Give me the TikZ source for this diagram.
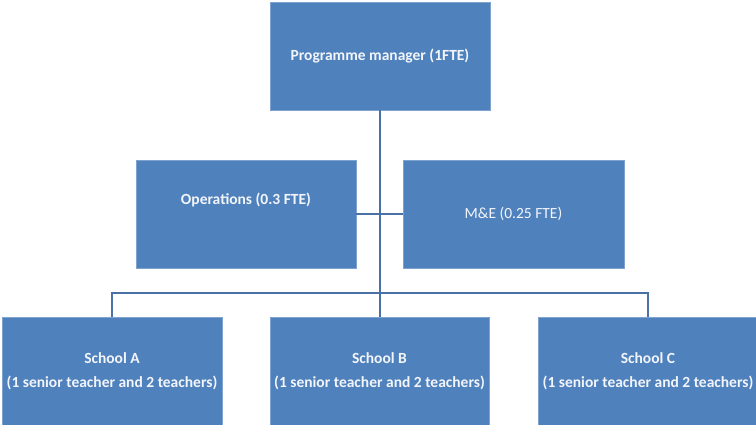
\documentclass[tikz,border=0pt]{standalone}
\usepackage{fontspec}
\setmainfont{Carlito}
\usepackage{tikz}

\definecolor{boxblue}{HTML}{4F81BD}
\definecolor{edgeblue}{HTML}{7FA3D0}
\definecolor{lineblue}{HTML}{4A71A6}
\definecolor{textwhite}{HTML}{F2F5FA}

\begin{document}
\begin{tikzpicture}[
    x=1pt, y=-1pt,
    unit/.style={rectangle, draw=edgeblue, fill=boxblue, thin, text=textwhite, align=center, font=\fontsize{15.5}{24}\selectfont, minimum width=220pt, minimum height=108pt, inner sep=0pt},
    link/.style={draw=lineblue, line width=1.4pt}
]

% Frame
\useasboundingbox (0,0) rectangle (756,425);
\begin{scope}
\clip (0,0) rectangle (756,425);

% Manager
\node[unit] (pm) at (380, 56) {\textbf{Programme manager (1FTE)}};

% Support
\node[unit] (ops) at (246, 214) {\textbf{Operations (0.3 FTE)}\\\strut};
\node[unit, minimum width=221pt] (me) at (513.5, 214) {M\&E (0.25 FTE)};

% Schools
\node[unit] (schA) at (112, 371) {\textbf{School A}\\\textbf{(1 senior teacher and 2 teachers)}};
\node[unit, minimum width=219pt] (schB) at (379.5, 371) {\textbf{School B}\\\textbf{(1 senior teacher and 2 teachers)}};
\node[unit] (schC) at (648, 371) {\textbf{School C}\\\textbf{(1 senior teacher and 2 teachers)}};

% Lines
\coordinate (bus) at (380, 293);
\draw[link] (pm.south) -- (pm.south |- schB.north);
\draw[link] (ops) -- (me);
\draw[link] (schA.north) |- (bus) -| (schC.north);
\end{scope}

\end{tikzpicture}
\end{document}
